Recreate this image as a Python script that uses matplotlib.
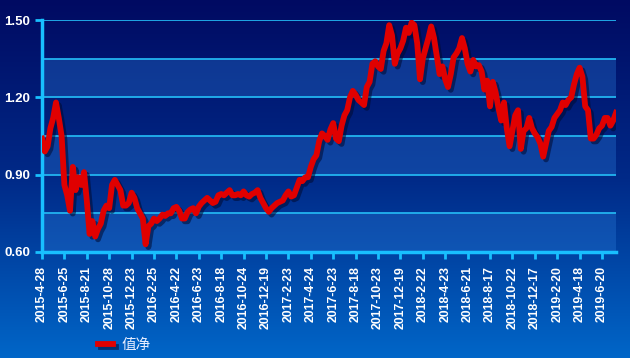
import numpy as np
import matplotlib
matplotlib.use('Agg')
import matplotlib.pyplot as plt
from matplotlib.colors import LinearSegmentedColormap
import matplotlib.patheffects as pe

# sampled every 5 trading days
nav = [1.04, 0.99, 1.01, 1.08, 1.12, 1.18, 1.12, 1.05, 0.86, 0.82,
       0.76, 0.93, 0.84, 0.89, 0.86, 0.91, 0.80, 0.67, 0.72, 0.66,
       0.69, 0.71, 0.76, 0.78, 0.77, 0.86, 0.88, 0.86, 0.84, 0.78,
       0.78, 0.79, 0.83, 0.81, 0.77, 0.75, 0.73, 0.63, 0.70, 0.71,
       0.73, 0.72, 0.73, 0.745, 0.74, 0.75, 0.75, 0.77, 0.775, 0.76,
       0.73, 0.73, 0.755, 0.765, 0.77, 0.75, 0.776, 0.79, 0.80, 0.81,
       0.80, 0.79, 0.795, 0.82, 0.825, 0.82, 0.83, 0.84, 0.82, 0.82,
       0.825, 0.82, 0.835, 0.82, 0.815, 0.825, 0.83, 0.84, 0.81, 0.79,
       0.77, 0.756, 0.77, 0.78, 0.79, 0.795, 0.80, 0.82, 0.835, 0.815,
       0.82, 0.85, 0.88, 0.875, 0.89, 0.89, 0.93, 0.96, 0.975, 1.03,
       1.06, 1.05, 1.035, 1.075, 1.10, 1.04, 1.03, 1.09, 1.13, 1.15,
       1.20, 1.225, 1.21, 1.19, 1.18, 1.17, 1.24, 1.26, 1.33, 1.34,
       1.32, 1.31, 1.38, 1.41, 1.48, 1.44, 1.33, 1.37, 1.39, 1.42,
       1.47, 1.45, 1.49, 1.48, 1.41, 1.27, 1.35, 1.39, 1.43, 1.475,
       1.43, 1.36, 1.29, 1.32, 1.27, 1.24, 1.29, 1.355, 1.37, 1.39,
       1.43, 1.39, 1.33, 1.30, 1.345, 1.32, 1.325, 1.30, 1.23, 1.265,
       1.165, 1.26, 1.22, 1.16, 1.11, 1.18, 1.08, 1.01, 1.07, 1.13,
       1.15, 1.00, 1.07, 1.08, 1.12, 1.08, 1.06, 1.045, 1.02, 0.97,
       1.02, 1.07, 1.085, 1.12, 1.135, 1.15, 1.18, 1.17, 1.19, 1.20,
       1.25, 1.29, 1.315, 1.28, 1.165, 1.15, 1.04, 1.04, 1.055, 1.08,
       1.09, 1.12, 1.12, 1.09, 1.11, 1.14]

date_labels = ['2015-4-28', '2015-6-25', '2015-8-21', '2015-10-28', '2015-12-23',
               '2016-2-25', '2016-4-22', '2016-6-23', '2016-8-18', '2016-10-24',
               '2016-12-19', '2017-2-23', '2017-4-24', '2017-6-23', '2017-8-18',
               '2017-10-23', '2017-12-19', '2018-2-22', '2018-4-23', '2018-6-21',
               '2018-8-17', '2018-10-22', '2018-12-17', '2019-2-20', '2019-4-18',
               '2019-6-20']

y_ticks = [0.60, 0.90, 1.20, 1.50]
y_grid = [0.60, 0.75, 0.90, 1.05, 1.20, 1.35, 1.50]

x = np.arange(len(nav))
tick_pos = np.arange(len(date_labels)) * 8

fig = plt.figure(figsize=(6.3, 3.58), dpi=100)

# background gradient
bg = fig.add_axes([0, 0, 1, 1], zorder=-10)
cmap = LinearSegmentedColormap.from_list('bg', ['#000a62', '#002a88', '#0066c8'])
bg.imshow(np.linspace(0, 1, 256).reshape(-1, 1), aspect='auto', cmap=cmap,
          extent=[0, 1, 0, 1], origin='upper')
bg.axis('off')

ax = fig.add_axes([42 / 630, 1 - 252 / 358, (616 - 42) / 630, 232 / 358])
ax.set_facecolor('none')

# alternating lighter bands
for lo in [0.60, 0.90, 1.20]:
    ax.axhspan(lo, lo + 0.15, color='#2a7ad8', alpha=0.35, lw=0, zorder=0)
for g in y_grid:
    ax.axhline(g, color='#22b4f0', lw=1.3, zorder=1)

ax.plot(x, nav, color='#e00000', lw=4.2, solid_joinstyle='round',
        label='值净', zorder=3,
        path_effects=[pe.SimpleLineShadow(offset=(2, -2), shadow_color='#000a30', alpha=0.55),
                      pe.Normal()])

ax.set_xlim(0, len(nav) - 1)
ax.set_ylim(0.60, 1.50)
ax.set_yticks(y_ticks)
ax.set_yticklabels(['%.2f' % v for v in y_ticks])
ax.set_xticks(tick_pos)
ax.set_xticklabels(date_labels, rotation=90)

for s in ['top', 'right']:
    ax.spines[s].set_visible(False)
for s in ['left', 'bottom']:
    ax.spines[s].set_color('#18c0ff')
    ax.spines[s].set_linewidth(2.5)
ax.tick_params(colors='#18c0ff', width=2, length=5, direction='out')
ax.tick_params(axis='x', pad=5)
for lab in ax.get_yticklabels():
    lab.set_color('white')
    lab.set_fontweight('bold')
    lab.set_fontsize(9.5)
    lab.set_family('Liberation Sans')
for lab in ax.get_xticklabels():
    lab.set_color('white')
    lab.set_fontweight('bold')
    lab.set_fontsize(8.8)
    lab.set_family('Liberation Sans')

leg = fig.legend(loc='center left', bbox_to_anchor=(0.135, 0.035), frameon=False,
                 handlelength=1.05, handletextpad=0.55,
                 prop={'family': ['Noto Sans CJK SC', 'DejaVu Sans'], 'size': 10.5})
for t in leg.get_texts():
    t.set_color('#e8eeff')

fig.savefig('out.png', dpi=100)
